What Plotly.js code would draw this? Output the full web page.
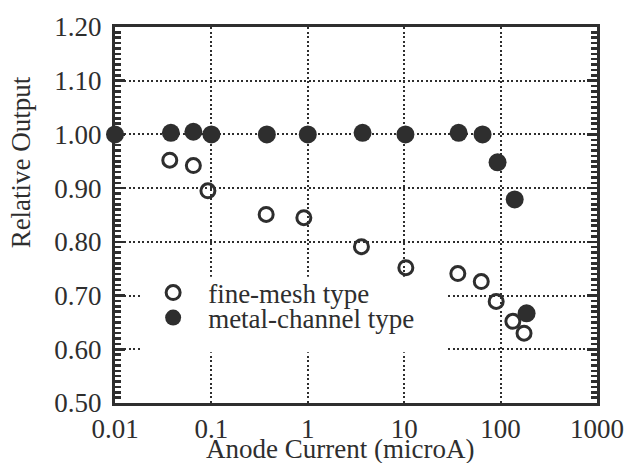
<!DOCTYPE html>
<html>
<head>
<meta charset="utf-8">
<script src="https://cdn.plot.ly/plotly-3.0.1.min.js"></script>
<style>html,body{margin:0;padding:0;background:#fff}#chart{width:625px;height:463px}</style>
</head>
<body>
<div id="chart"></div>
<script>
// Data
const fineMeshX = [0.037, 0.065, 0.092, 0.37, 0.91, 3.6, 10.4, 36, 63, 90, 134, 175];
const fineMeshY = [0.952, 0.942, 0.895, 0.851, 0.845, 0.791, 0.752, 0.741, 0.726, 0.689, 0.652, 0.630];
const metalChannelX = [0.01, 0.038, 0.065, 0.1, 0.376, 1.0, 3.7, 10.3, 36.7, 65, 93, 140, 186];
const metalChannelY = [1.0, 1.003, 1.005, 1.0, 1.0, 1.0, 1.003, 1.0, 1.003, 1.0, 0.948, 0.879, 0.667];
const xTickVals = [0.01, 0.1, 1, 10, 100, 1000];
const xTickText = ["0.01", "0.1", "1", "10", "100", "1000"];
const yTickVals = [0.5, 0.6, 0.7, 0.8, 0.9, 1.0, 1.1, 1.2];
const yTickText = ["0.50", "0.60", "0.70", "0.80", "0.90", "1.00", "1.10", "1.20"];
const seriesNames = ["fine-mesh type", "metal-channel type"];
const xTitle = "Anode Current (microA)";
const yTitle = "Relative Output";

const ink = "#2e2e2e";
const font = {family: "Liberation Serif, Times New Roman, serif", size: 27, color: ink};

const traces = [
  {x: fineMeshX, y: fineMeshY, name: seriesNames[0], type: "scatter", mode: "markers",
   cliponaxis: false, legend: "legend",
   marker: {symbol: "circle-open", size: 14, color: ink, line: {width: 3, color: ink}}},
  {x: metalChannelX, y: metalChannelY, name: seriesNames[1], type: "scatter", mode: "markers",
   cliponaxis: false, legend: "legend2",
   marker: {symbol: "circle", size: 18, color: ink}}
];

const legendCommon = {bgcolor: "rgba(0,0,0,0)", borderwidth: 0, font: font,
  xref: "paper", yref: "paper", xanchor: "left", yanchor: "middle", itemwidth: 60};

const layout = {
  width: 625, height: 463,
  margin: {l: 115, r: 28, t: 27, b: 60},
  paper_bgcolor: "#ffffff", plot_bgcolor: "#ffffff",
  font: font,
  showlegend: true,
  legend: Object.assign({x: 0.048, y: 0.2926}, legendCommon),
  legend2: Object.assign({x: 0.048, y: 0.226}, legendCommon),
  xaxis: {
    type: "log", range: [-2, 3],
    tickmode: "array", tickvals: xTickVals, ticktext: xTickText,
    ticks: "", showline: true, mirror: true, linewidth: 3, linecolor: ink,
    showgrid: true, gridcolor: ink, gridwidth: 2, griddash: "2px,2.5px",
    zeroline: false, tickfont: font, ticklabelstandoff: 0
  },
  yaxis: {
    range: [0.5, 1.2],
    tickmode: "array", tickvals: yTickVals, ticktext: yTickText,
    ticks: "inside", ticklen: 10, tickwidth: 2.5, tickcolor: ink,
    minor: {dtick: 0.01, ticks: "inside", ticklen: 6, tickwidth: 2.5, tickcolor: ink, showgrid: false},
    showline: true, mirror: "allticks", linewidth: 3, linecolor: ink,
    showgrid: true, gridcolor: ink, gridwidth: 2, griddash: "2px,2.5px",
    zeroline: false, tickfont: font, ticklabelstandoff: 5
  },
  shapes: [
    {type: "rect", xref: "paper", yref: "paper", x0: 0.052, x1: 0.69, y0: 0.135, y1: 0.336,
     fillcolor: "#ffffff", line: {width: 0}, layer: "above"}
  ],
  annotations: [
    {text: xTitle, xref: "paper", yref: "paper", x: 0.467, y: -0.122, xanchor: "center", yanchor: "middle",
     showarrow: false, font: font},
    {text: yTitle, xref: "paper", yref: "paper", x: -0.195, y: 0.64, xanchor: "center", yanchor: "middle",
     textangle: -90, showarrow: false, font: font}
  ]
};

Plotly.newPlot("chart", traces, layout, {staticPlot: true, displayModeBar: false});
</script>
</body>
</html>
